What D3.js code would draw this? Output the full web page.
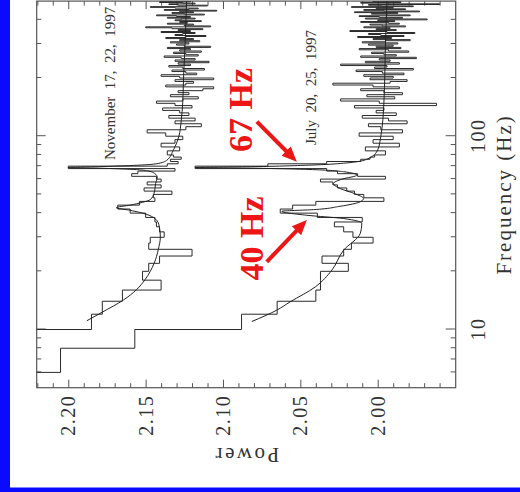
<!DOCTYPE html>
<html>
<head>
<meta charset="utf-8">
<script src="https://cdn.jsdelivr.net/npm/d3@7"></script>
<style>
  body { margin: 0; background: #fff; }
  svg { display: block; }
</style>
</head>
<body>
<div id="chart"></div>
<script>
// Power spectra, 2 Hz bins from 4 Hz to 80 Hz (values above 2.22 are off the plot)
const lowBinStart = 4, lowBinWidth = 2;
const novLowPower = [2.30, 2.30, 2.30, 2.185, 2.178, 2.165, 2.140, 2.152, 2.148, 2.141,
  2.120, 2.148, 2.147, 2.138, 2.141, 2.143, 2.144, 2.150, 2.160, 2.168,
  2.154, 2.144, 2.145, 2.133, 2.151, 2.140, 2.149, 2.140, 2.143, 2.159,
  2.155, 2.131, 2.200, 2.136, 2.129, 2.134, 2.127, 2.132];
const julLowPower = [2.30, 2.205, 2.157, 2.088, 2.065, 2.040, 2.037, 2.037, 2.019, 2.036,
  2.022, 2.017, 2.003, 2.016, 2.022, 2.028, 2.010, 2.039, 2.063, 2.055,
  2.040, 1.996, 2.009, 2.015, 2.020, 2.026, 2.029, 2.037, 1.995, 2.013,
  2.026, 2.033, 2.118, 2.071, 2.033, 2.011, 2.005, 2.002];

// 4 Hz bins from 80 Hz to 500 Hz
const highBinStart = 80, highBinWidth = 4;
const novHighPower = [2.136, 2.128, 2.140, 2.131, 2.126,
  2.137, 2.149, 2.124, 2.114, 2.131, 2.118, 2.135, 2.122, 2.128, 2.139,
  2.120, 2.131, 2.143, 2.126, 2.116, 2.134, 2.122, 2.129, 2.113, 2.106, 2.137, 2.124, 2.119, 2.131, 2.106,
  2.128, 2.140, 2.117, 2.124, 2.133, 2.112, 2.126, 2.135, 2.121, 2.129, 2.109, 2.131, 2.118,
  2.127, 2.138, 2.116, 2.124, 2.132, 2.114, 2.128, 2.121, 2.136, 2.108, 2.125, 2.130,
  2.122, 2.134, 2.115, 2.128, 2.119, 2.137, 2.124, 2.111, 2.131, 2.126, 2.118, 2.140, 2.121,
  2.129, 2.113, 2.133, 2.150, 2.108, 2.125, 2.119, 2.136, 2.123, 2.128, 2.114, 2.131,
  2.127, 2.118, 2.136, 2.121, 2.130, 2.143, 2.112, 2.125, 2.133, 2.119, 2.128, 2.104, 2.138,
  2.122, 2.116, 2.131, 2.147, 2.124, 2.110, 2.129, 2.135, 2.118, 2.126, 2.141, 2.121];
const julHighPower = [1.995, 2.008, 1.986, 2.003, 1.990,
  2.012, 1.984, 1.998, 2.006, 1.981, 1.993, 2.010, 1.988, 2.001, 1.996,
  2.015, 1.962, 1.999, 2.024, 1.989, 2.007, 1.984, 1.996, 2.011, 1.986, 2.003, 2.029, 1.992, 1.981, 2.005,
  1.990, 2.009, 1.983, 1.997, 2.014, 1.977, 2.002, 1.994, 2.024, 1.986, 2.008, 1.992, 1.999,
  1.975, 2.011, 1.988, 1.996, 2.004, 1.980, 1.993, 2.012, 1.985, 2.001, 1.990, 2.006,
  1.987, 2.010, 1.995, 1.979, 2.003, 1.991, 2.013, 1.983, 1.998, 2.006, 1.976, 1.994, 2.018,
  1.988, 2.001, 1.992, 2.009, 1.982, 1.997, 2.005, 1.986, 1.993, 2.011, 1.989, 2.000,
  1.968, 2.008, 1.984, 1.999, 2.012, 1.979, 1.994, 2.004, 1.987, 2.015, 1.973, 1.996, 2.009,
  1.982, 2.001, 1.990, 2.017, 1.977, 1.998, 2.006, 1.960, 1.993, 2.011, 1.985, 2.003];

// fitted models, [frequency, power]
const novFit = [[11.1, 2.188], [12.3, 2.178], [14.2, 2.1644], [16.1, 2.1558], [18.1, 2.1504],
  [20, 2.147], [22, 2.1445], [26, 2.1418], [30, 2.1405], [35, 2.1415], [38, 2.145], [40, 2.152],
  [41.5, 2.161], [42.7, 2.169], [44, 2.160], [45.5, 2.152], [47, 2.147], [50.5, 2.1446],
  [57, 2.1435], [61.5, 2.1425], [64, 2.144], [66, 2.148], [67.3, 2.158], [68.3, 2.180],
  [68.9, 2.200], [69.6, 2.180], [70.6, 2.158], [72, 2.143], [75, 2.1364], [85, 2.132],
  [100, 2.1285], [120, 2.127], [150, 2.126], [200, 2.1255], [300, 2.1245], [500, 2.1235]];
const julFit = [[11.0, 2.0814], [12.6, 2.0652], [13.9, 2.0566], [16.6, 2.0404], [20.3, 2.0296],
  [25.7, 2.0221], [31.4, 2.0113], [35.4, 2.0103], [37.5, 2.022], [39.0, 2.0458], [40.9, 2.062],
  [41.7, 2.0415], [43.4, 2.0243], [45.8, 2.0113], [47.6, 2.0092], [50.5, 2.015], [53.5, 2.024],
  [56.9, 2.0286], [60, 2.023], [62.9, 2.0134], [65.5, 2.022], [67.3, 2.045], [68.3, 2.080],
  [68.9, 2.118], [69.6, 2.080], [70.8, 2.045], [72.5, 2.022], [76, 2.007], [85, 2.000],
  [100, 1.998], [150, 1.996], [300, 1.995], [500, 1.994]];

const powerTicks = [2.00, 2.05, 2.10, 2.15, 2.20];
const freqTicks = [10, 100];
const freqMinorTicks = [6, 7, 8, 9, 20, 30, 40, 50, 60, 70, 80, 90, 200, 300, 400];

const dateLabels = [
  { text: "November  17,  22,  1997", freq: 75.3, power: 2.1695 },
  { text: "July  20,  25,  1997", freq: 90.1, power: 2.0398 }
];
const qpoLabels = [
  { text: "67 Hz", freq: 136.7, power: 2.0812, from: [118.9, 2.0781], to: [73.8, 2.0523] },
  { text: "40 Hz", freq: 29.6, power: 2.0741, from: [22.4, 2.0717], to: [36.9, 2.0458] }
];

const W = 386.6, H = 419;   // plot drawn in its own frame, then turned on its side
const serif = "'Liberation Serif', 'DejaVu Serif', serif";
const red = "#ec1616";

const svg = d3.select("#chart").append("svg")
  .attr("width", 520)
  .attr("height", 492);

svg.append("rect").attr("width", 520).attr("height", 492).attr("fill", "#0a0aff");
svg.append("rect").attr("x", 10).attr("width", 510).attr("height", 487.5).attr("fill", "#fff");

svg.append("defs").append("clipPath").attr("id", "plot-clip")
  .append("rect").attr("width", W).attr("height", H);

const g = svg.append("g").attr("transform", "translate(36.7,387.7) rotate(-90)");

const x = d3.scaleLog().domain([5, 500]).range([0, W]);
const y = d3.scaleLinear().domain([1.9496, 2.2204]).range([H, 0]);

// axes
function styleAxis(sel) {
  sel.select(".domain").remove();
  sel.selectAll("line").attr("stroke", "#555");
  sel.selectAll("text").attr("font-family", serif).attr("font-size", 20)
    .attr("fill", "#333").attr("letter-spacing", 1.5);
}
const powerMinor = d3.range(196, 223).map(d => d / 100).filter(d => Math.round(d * 100) % 5 !== 0);

g.append("g").call(d3.axisLeft(y).tickValues(powerTicks).tickSize(-8).tickPadding(7)
  .tickFormat(d3.format(".2f"))).call(styleAxis);
g.append("g").call(d3.axisLeft(y).tickValues(powerMinor).tickSize(-4.5).tickFormat(""))
  .call(styleAxis);
g.append("g").attr("transform", `translate(${W},0)`)
  .call(d3.axisRight(y).tickValues(powerTicks).tickSize(-8).tickFormat("")).call(styleAxis);
g.append("g").attr("transform", `translate(${W},0)`)
  .call(d3.axisRight(y).tickValues(powerMinor).tickSize(-4.5).tickFormat("")).call(styleAxis);

g.append("g").attr("transform", `translate(0,${H})`)
  .call(d3.axisBottom(x).tickValues(freqTicks).tickSize(-10).tickPadding(15)
    .tickFormat(d3.format("d"))).call(styleAxis);
g.append("g").attr("transform", `translate(0,${H})`)
  .call(d3.axisBottom(x).tickValues(freqMinorTicks).tickSize(-5).tickFormat("")).call(styleAxis);
g.append("g")
  .call(d3.axisTop(x).tickValues(freqTicks).tickSize(-9).tickFormat("")).call(styleAxis);
g.append("g")
  .call(d3.axisTop(x).tickValues(freqMinorTicks).tickSize(-4.5).tickFormat("")).call(styleAxis);

g.append("rect").attr("width", W).attr("height", H)
  .attr("fill", "none").attr("stroke", "#555").attr("stroke-width", 1.2);

g.append("text")
  .attr("transform", `translate(-60,${H / 2}) rotate(-90)`)
  .attr("text-anchor", "middle")
  .attr("font-family", serif).attr("font-size", 21).attr("letter-spacing", 2.5)
  .attr("fill", "#333")
  .text("Power");

g.append("text")
  .attr("x", W / 2).attr("y", H + 55)
  .attr("text-anchor", "middle")
  .attr("font-family", serif).attr("font-size", 21).attr("letter-spacing", 2)
  .attr("fill", "#333")
  .text("Frequency (Hz)");

// histograms and fits
function steps(low, high) {
  const pts = low.map((p, i) => [lowBinStart + i * lowBinWidth, p])
    .concat(high.map((p, i) => [highBinStart + i * highBinWidth, p]));
  pts.push([highBinStart + high.length * highBinWidth, high[high.length - 1]]);
  return pts;
}
const stepLine = d3.line().x(d => x(d[0])).y(d => y(d[1])).curve(d3.curveStepAfter);
const fitLine = d3.line().x(d => x(d[0])).y(d => y(d[1])).curve(d3.curveMonotoneX);

const plot = g.append("g").attr("clip-path", "url(#plot-clip)");

[steps(novLowPower, novHighPower), steps(julLowPower, julHighPower)].forEach(s => {
  plot.append("path").attr("d", stepLine(s))
    .attr("fill", "none").attr("stroke", "#2a2a2a").attr("stroke-width", 1);
});
[novFit, julFit].forEach(f => {
  plot.append("path").attr("d", fitLine(f))
    .attr("fill", "none").attr("stroke", "#222").attr("stroke-width", 1);
});

// labels
g.selectAll(".date").data(dateLabels).join("text")
  .attr("class", "date")
  .attr("x", d => x(d.freq)).attr("y", d => y(d.power))
  .attr("font-family", serif).attr("font-size", 15)
  .attr("fill", "#333").style("white-space", "pre")
  .text(d => d.text);

g.selectAll(".qpo").data(qpoLabels).join("text")
  .attr("class", "qpo")
  .attr("x", d => x(d.freq)).attr("y", d => y(d.power))
  .attr("text-anchor", "middle")
  .attr("font-family", serif).attr("font-size", 34).attr("font-weight", "bold")
  .attr("fill", red)
  .text(d => d.text);

qpoLabels.forEach(d => {
  const x0 = x(d.from[0]), y0 = y(d.from[1]);
  const x1 = x(d.to[0]), y1 = y(d.to[1]);
  const len = Math.hypot(x1 - x0, y1 - y0);
  const ux = (x1 - x0) / len, uy = (y1 - y0) / len;
  const head = 15, half = 6.5;
  g.append("line")
    .attr("x1", x0).attr("y1", y0)
    .attr("x2", x1 - ux * head * 0.8).attr("y2", y1 - uy * head * 0.8)
    .attr("stroke", red).attr("stroke-width", 4);
  const bx = x1 - ux * head, by = y1 - uy * head;
  g.append("path")
    .attr("d", `M${x1},${y1}L${bx - uy * half},${by + ux * half}L${bx + uy * half},${by - ux * half}Z`)
    .attr("fill", red);
});
</script>
</body>
</html>
